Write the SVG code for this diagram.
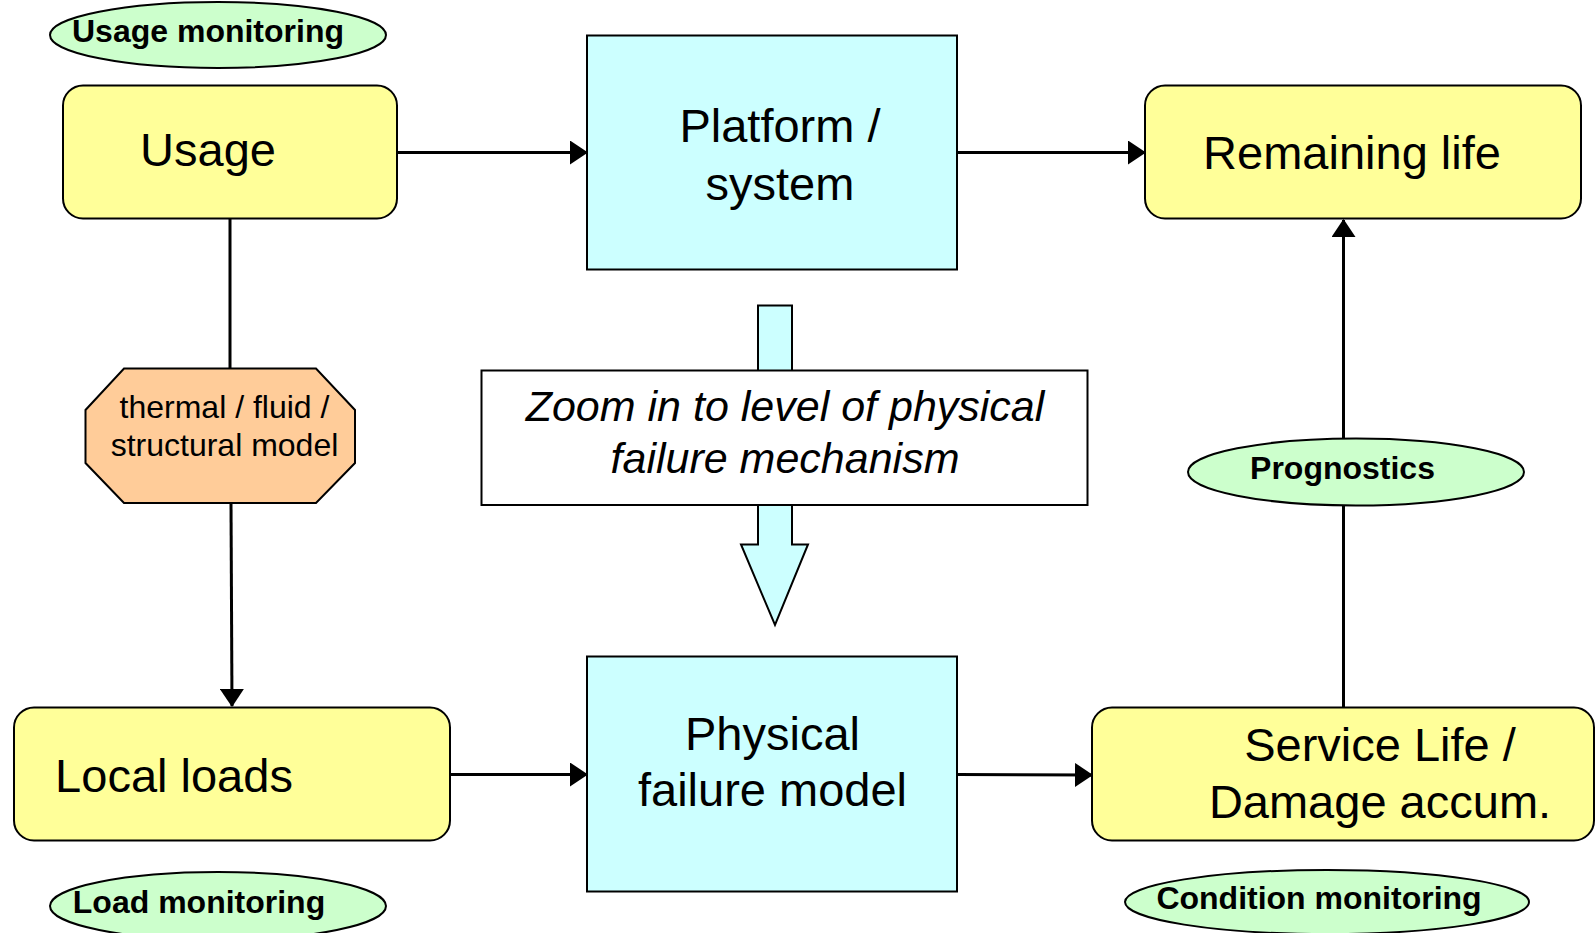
<svg xmlns="http://www.w3.org/2000/svg" width="1596" height="933" viewBox="0 0 1596 933">
<style>
  .box { stroke: #000; stroke-width: 2; }
  .yel { fill: #FFFF99; }
  .cyan { fill: #CCFFFF; }
  .grn { fill: #CCFFCC; }
  .peach { fill: #FFCC99; }
  .big { font-family: "Liberation Sans", Arial, sans-serif; font-size: 47px; fill: #000; }
  .mid { font-family: "Liberation Sans", Arial, sans-serif; font-size: 32px; fill: #000; }
  .bold { font-family: "Liberation Sans", Arial, sans-serif; font-size: 32px; font-weight: bold; fill: #000; }
  .ital { font-family: "Liberation Sans", Arial, sans-serif; font-size: 43px; font-style: italic; fill: #000; }
  .conn { stroke: #000; stroke-width: 3; fill: none; }
</style>
<defs>
  <marker id="ah" markerUnits="userSpaceOnUse" markerWidth="18" markerHeight="24" refX="17" refY="12" orient="auto">
    <path d="M0,0 L18,12 L0,24 z" fill="#000"/>
  </marker>
</defs>
<rect width="1596" height="933" fill="#fff"/>

<g id="connectors">
  <line class="conn" x1="398" y1="152.5" x2="587" y2="152.5" marker-end="url(#ah)"/>
  <line class="conn" x1="958" y1="152.5" x2="1145" y2="152.5" marker-end="url(#ah)"/>
  <line class="conn" x1="230" y1="219" x2="230" y2="369"/>
  <line class="conn" x1="231" y1="503" x2="232" y2="706" marker-end="url(#ah)"/>
  <line class="conn" x1="451" y1="774.5" x2="587" y2="774.5" marker-end="url(#ah)"/>
  <line class="conn" x1="958" y1="774.5" x2="1092" y2="775" marker-end="url(#ah)"/>
  <line class="conn" x1="1343.5" y1="707" x2="1343.5" y2="506"/>
  <line class="conn" x1="1343.5" y1="438" x2="1343.5" y2="220" marker-end="url(#ah)"/>
</g>

<g id="usage-monitoring">
  <ellipse class="box grn" cx="218" cy="35" rx="168" ry="33"/>
  <text class="bold" x="208" y="42" text-anchor="middle">Usage monitoring</text>
</g>

<g id="usage">
  <rect class="box yel" x="63" y="85.5" width="334" height="133" rx="20"/>
  <text class="big" x="208" y="166" text-anchor="middle">Usage</text>
</g>

<g id="platform">
  <rect class="box cyan" x="587" y="35.5" width="370" height="234"/>
  <text class="big" x="780" y="142" text-anchor="middle">Platform /</text>
  <text class="big" x="780" y="200" text-anchor="middle">system</text>
</g>

<g id="remaining-life">
  <rect class="box yel" x="1145" y="85.5" width="436" height="133" rx="20"/>
  <text class="big" x="1352" y="169" text-anchor="middle">Remaining life</text>
</g>

<g id="model">
  <polygon class="box peach" points="124,368.5 316,368.5 355,410 355,463 316,503 124,503 85.5,463 85.5,410"/>
  <text class="mid" x="224.5" y="418" text-anchor="middle">thermal / fluid /</text>
  <text class="mid" x="224.5" y="456" text-anchor="middle">structural model</text>
</g>

<g id="zoom-arrow">
  <polygon class="box cyan" points="758,305.5 792,305.5 792,544.5 808,544.5 775,625 741,544.5 758,544.5"/>
</g>

<g id="zoom-box">
  <rect class="box" fill="#fff" x="481.5" y="370.5" width="606" height="134.5"/>
  <text class="ital" x="785" y="421" text-anchor="middle">Zoom in to level of physical</text>
  <text class="ital" x="785" y="473" text-anchor="middle">failure mechanism</text>
</g>

<g id="prognostics">
  <ellipse class="box grn" cx="1356" cy="472" rx="168" ry="33.5"/>
  <text class="bold" x="1342.5" y="479" text-anchor="middle">Prognostics</text>
</g>

<g id="local-loads">
  <rect class="box yel" x="14" y="707.5" width="436" height="133" rx="20"/>
  <text class="big" x="174" y="792" text-anchor="middle">Local loads</text>
</g>

<g id="physical">
  <rect class="box cyan" x="587" y="656.5" width="370" height="235"/>
  <text class="big" x="772.5" y="750" text-anchor="middle">Physical</text>
  <text class="big" x="772.5" y="806" text-anchor="middle">failure model</text>
</g>

<g id="service-life">
  <rect class="box yel" x="1092" y="707.5" width="502" height="133" rx="20"/>
  <text class="big" x="1380" y="761" text-anchor="middle">Service Life /</text>
  <text class="big" x="1380" y="818" text-anchor="middle">Damage accum.</text>
</g>

<g id="load-monitoring">
  <ellipse class="box grn" cx="218" cy="906" rx="168" ry="34"/>
  <text class="bold" x="199" y="913" text-anchor="middle">Load monitoring</text>
</g>

<g id="condition-monitoring">
  <ellipse class="box grn" cx="1327" cy="902" rx="202" ry="32"/>
  <text class="bold" x="1319" y="909" text-anchor="middle">Condition monitoring</text>
</g>
</svg>
